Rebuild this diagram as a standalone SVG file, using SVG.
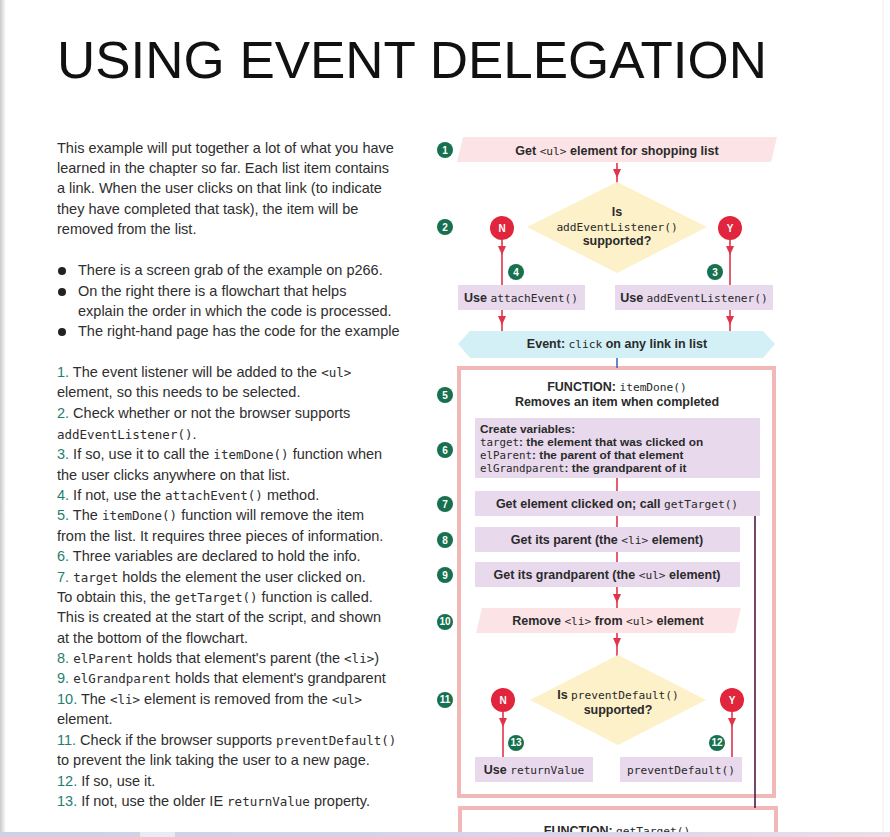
<svg xmlns="http://www.w3.org/2000/svg" width="890" height="837" viewBox="0 0 890 837">
<defs>
<style>
.t{font-family:"Liberation Sans",Arial,sans-serif;font-size:14.5px;fill:#2e2e2e}
.m{font-family:"DejaVu Sans Mono","Liberation Mono",monospace;font-size:12.5px}
.n{fill:#1f8070}
.fb{font-family:"Liberation Sans",Arial,sans-serif;font-weight:bold;font-size:12.5px;fill:#2a2a2a}
.fm{font-family:"DejaVu Sans Mono","Liberation Mono",monospace;font-weight:normal;font-size:11.2px}
.v{font-size:11.8px}
.v .fm{font-size:10.8px}
.mid{text-anchor:middle}
.badge circle{fill:#17704e}
.badge text{font-family:"Liberation Sans",Arial,sans-serif;font-weight:bold;font-size:10px;fill:#fff;text-anchor:middle}
.yn circle{fill:#e0253c}
.yn text{font-family:"Liberation Sans",Arial,sans-serif;font-weight:bold;font-size:10px;fill:#fff;text-anchor:middle}
.pink{fill:#fbe3e6}
.lav{fill:#e8d9ed}
.yel{fill:#fdf1c9}
.cyan{fill:#d3f0f7}
.frame{fill:#fff;stroke:#f2b7b7;stroke-width:4}
.red{stroke:#e0344a;stroke-width:1.6;fill:none}
.arr{marker-mid:url(#ah)}
</style>
<marker id="ah" markerWidth="9" markerHeight="8" refX="5" refY="4" orient="auto" markerUnits="userSpaceOnUse">
<path d="M0,0 L9,4 L0,8 Z" fill="#e0344a"/>
</marker>
<linearGradient id="ledge" x1="0" x2="1" y1="0" y2="0">
<stop offset="0" stop-color="#c8c8c8"/>
<stop offset="1" stop-color="#ffffff"/>
</linearGradient>
<linearGradient id="bstrip" x1="0" x2="1" y1="0" y2="0">
<stop offset="0" stop-color="#cdd1e6"/>
<stop offset="0.6" stop-color="#d9d4ea"/>
<stop offset="1" stop-color="#eadde8"/>
</linearGradient>
</defs>

<rect x="0" y="0" width="890" height="837" fill="#fff"/>
<rect x="0" y="0" width="6" height="837" fill="url(#ledge)"/>
<line x1="883" y1="0" x2="883" y2="832" stroke="#eeeeee" stroke-width="1"/>

<g id="title">
<text x="57" y="78" font-family="'Liberation Sans',Arial,sans-serif" font-size="51" fill="#111" textLength="710" lengthAdjust="spacingAndGlyphs">USING EVENT DELEGATION</text>
</g>

<g id="intro" class="t">
<text x="57" y="153">This example will put together a lot of what you have</text>
<text x="57" y="173">learned in the chapter so far. Each list item contains</text>
<text x="57" y="193">a link. When the user clicks on that link (to indicate</text>
<text x="57" y="214">they have completed that task), the item will be</text>
<text x="57" y="234">removed from the list.</text>
<circle cx="62" cy="271" r="4" fill="#222"/>
<circle cx="62" cy="292" r="4" fill="#222"/>
<circle cx="62" cy="332" r="4" fill="#222"/>
<text x="78" y="275">There is a screen grab of the example on p266.</text>
<text x="78" y="296">On the right there is a flowchart that helps</text>
<text x="78" y="316">explain the order in which the code is processed.</text>
<text x="78" y="336">The right-hand page has the code for the example</text>
</g>

<g id="steps" class="t">
<text x="57" y="377"><tspan class="n">1.</tspan> The event listener will be added to the <tspan class="m">&lt;ul&gt;</tspan></text>
<text x="57" y="397">element, so this needs to be selected.</text>
<text x="57" y="418"><tspan class="n">2.</tspan> Check whether or not the browser supports</text>
<text x="57" y="439"><tspan class="m">addEventListener()</tspan>.</text>
<text x="57" y="459"><tspan class="n">3.</tspan> If so, use it to call the <tspan class="m">itemDone()</tspan> function when</text>
<text x="57" y="480">the user clicks anywhere on that list.</text>
<text x="57" y="500"><tspan class="n">4.</tspan> If not, use the <tspan class="m">attachEvent()</tspan> method.</text>
<text x="57" y="520"><tspan class="n">5.</tspan> The <tspan class="m">itemDone()</tspan> function will remove the item</text>
<text x="57" y="541">from the list. It requires three pieces of information.</text>
<text x="57" y="561"><tspan class="n">6.</tspan> Three variables are declared to hold the info.</text>
<text x="57" y="582"><tspan class="n">7.</tspan> <tspan class="m">target</tspan> holds the element the user clicked on.</text>
<text x="57" y="602">To obtain this, the <tspan class="m">getTarget()</tspan> function is called.</text>
<text x="57" y="622">This is created at the start of the script, and shown</text>
<text x="57" y="643">at the bottom of the flowchart.</text>
<text x="57" y="663"><tspan class="n">8.</tspan> <tspan class="m">elParent</tspan> holds that element's parent (the <tspan class="m">&lt;li&gt;</tspan>)</text>
<text x="57" y="683"><tspan class="n">9.</tspan> <tspan class="m">elGrandparent</tspan> holds that element's grandparent</text>
<text x="57" y="704"><tspan class="n">10.</tspan> The <tspan class="m">&lt;li&gt;</tspan> element is removed from the <tspan class="m">&lt;ul&gt;</tspan></text>
<text x="57" y="724">element.</text>
<text x="57" y="745"><tspan class="n">11.</tspan> Check if the browser supports <tspan class="m">preventDefault()</tspan></text>
<text x="57" y="765">to prevent the link taking the user to a new page.</text>
<text x="57" y="786"><tspan class="n">12.</tspan> If so, use it.</text>
<text x="57" y="806"><tspan class="n">13.</tspan> If not, use the older IE <tspan class="m">returnValue</tspan> property.</text>
</g>

<g id="frame-itemDone"><rect class="frame" x="459" y="368" width="315" height="428"/></g>
<g id="frame-getTarget">
<rect class="frame" x="460" y="808" width="316" height="60"/>
<text class="fb mid" x="617" y="835">FUNCTION: <tspan class="fm">getTarget()</tspan></text>
</g>

<g id="connectors">
<path class="red arr" d="M617,163 L617,174 L617,183"/>
<path class="red arr" d="M502,240 L502,251 L502,285"/>
<path class="red arr" d="M730,240 L730,251 L730,285"/>
<path class="red arr" d="M502,310 L502,321 L502,331"/>
<path class="red arr" d="M730,310 L730,321 L730,331"/>
<line x1="617" y1="358" x2="617" y2="368" stroke="#3b6db3" stroke-width="1.6"/>
<line class="red" x1="617" y1="478" x2="617" y2="491"/>
<line class="red" x1="617" y1="516" x2="617" y2="527"/>
<line class="red" x1="617" y1="552" x2="617" y2="562"/>
<path class="red arr" d="M617,587 L617,599 L617,608"/>
<path class="red arr" d="M617,633 L617,643 L617,656"/>
<path class="red arr" d="M503,712 L503,723 L503,757"/>
<path class="red arr" d="M732,712 L732,723 L732,757"/>
<line x1="755" y1="516" x2="755" y2="808" stroke="#4e1a45" stroke-width="1.6"/>
</g>

<g id="n1">
<polygon class="pink" points="463,137 777,137 771,162 457,162"/>
<text class="fb mid" x="617" y="155">Get <tspan class="fm">&lt;ul&gt;</tspan> element for shopping list</text>
</g>
<g id="d1">
<polygon class="yel" points="617,182 707,227 617,273 527,227"/>
<text class="fb mid" x="617" y="216">Is</text>
<text class="fb mid" x="617" y="231"><tspan class="fm">addEventListener()</tspan></text>
<text class="fb mid" x="617" y="245">supported?</text>
</g>
<g id="n1no" class="yn"><circle cx="502" cy="228" r="12"/><text x="502" y="232">N</text></g>
<g id="n1yes" class="yn"><circle cx="730" cy="228" r="12"/><text x="730" y="232">Y</text></g>
<g id="n4">
<rect class="lav" x="458" y="285" width="127" height="25"/>
<text class="fb mid" x="521" y="302">Use <tspan class="fm">attachEvent()</tspan></text>
</g>
<g id="n3">
<rect class="lav" x="615" y="285" width="158" height="25"/>
<text class="fb mid" x="694" y="302">Use <tspan class="fm">addEventListener()</tspan></text>
</g>
<g id="event">
<polygon class="cyan" points="458,344 470,331 763,331 775,344 763,358 470,358"/>
<text class="fb mid" x="617" y="348">Event: <tspan class="fm">click</tspan> on any link in list</text>
</g>
<g id="n5">
<text class="fb mid" x="617" y="391">FUNCTION: <tspan class="fm">itemDone()</tspan></text>
<text class="fb mid" x="617" y="406">Removes an item when completed</text>
</g>
<g id="n6">
<rect class="lav" x="475" y="418" width="285" height="60"/>
<text class="fb v" x="480" y="433">Create variables:</text>
<text class="fb v" x="480" y="446"><tspan class="fm">target</tspan>: the element that was clicked on</text>
<text class="fb v" x="480" y="459"><tspan class="fm">elParent</tspan>: the parent of that element</text>
<text class="fb v" x="480" y="472"><tspan class="fm">elGrandparent</tspan>: the grandparent of it</text>
</g>
<g id="n7">
<rect class="lav" x="475" y="491" width="285" height="25"/>
<text class="fb mid" x="617" y="508">Get element clicked on; call <tspan class="fm">getTarget()</tspan></text>
</g>
<g id="n8">
<rect class="lav" x="475" y="527" width="265" height="25"/>
<text class="fb mid" x="607" y="544">Get its parent (the <tspan class="fm">&lt;li&gt;</tspan> element)</text>
</g>
<g id="n9">
<rect class="lav" x="475" y="562" width="265" height="25"/>
<text class="fb mid" x="607" y="579">Get its grandparent (the <tspan class="fm">&lt;ul&gt;</tspan> element)</text>
</g>
<g id="n10">
<polygon class="pink" points="482,608 741,608 735,633 476,633"/>
<text class="fb mid" x="608" y="625">Remove <tspan class="fm">&lt;li&gt;</tspan> from <tspan class="fm">&lt;ul&gt;</tspan> element</text>
</g>
<g id="d2">
<polygon class="yel" points="618,655 706,700 618,745 530,700"/>
<text class="fb mid" x="618" y="699">Is <tspan class="fm">preventDefault()</tspan></text>
<text class="fb mid" x="618" y="714">supported?</text>
</g>
<g id="n2no" class="yn"><circle cx="503" cy="700" r="12"/><text x="503" y="704">N</text></g>
<g id="n2yes" class="yn"><circle cx="732" cy="700" r="12"/><text x="732" y="704">Y</text></g>
<g id="n13">
<rect class="lav" x="475" y="757" width="118" height="25"/>
<text class="fb mid" x="534" y="774">Use <tspan class="fm">returnValue</tspan></text>
</g>
<g id="n12">
<rect class="lav" x="620" y="757" width="122" height="25"/>
<text class="fb mid" x="681" y="774"><tspan class="fm">preventDefault()</tspan></text>
</g>

<g id="badges" class="badge">
<g id="b1"><circle cx="445" cy="150" r="8"/><text x="445" y="153.5">1</text></g>
<g id="b2"><circle cx="445" cy="227" r="8"/><text x="445" y="230.5">2</text></g>
<g id="b3"><circle cx="715" cy="272" r="8"/><text x="715" y="275.5">3</text></g>
<g id="b4"><circle cx="516" cy="272" r="8"/><text x="516" y="275.5">4</text></g>
<g id="b5"><circle cx="445" cy="395" r="8"/><text x="445" y="398.5">5</text></g>
<g id="b6"><circle cx="445" cy="450" r="8"/><text x="445" y="453.5">6</text></g>
<g id="b7"><circle cx="445" cy="504" r="8"/><text x="445" y="507.5">7</text></g>
<g id="b8"><circle cx="445" cy="540" r="8"/><text x="445" y="543.5">8</text></g>
<g id="b9"><circle cx="445" cy="575" r="8"/><text x="445" y="578.5">9</text></g>
<g id="b10"><circle cx="445" cy="622" r="8"/><text x="445" y="625" font-size="8.5">10</text></g>
<g id="b11"><circle cx="445" cy="700" r="8"/><text x="445" y="703" font-size="8.5">11</text></g>
<g id="b12"><circle cx="717" cy="743" r="8"/><text x="717" y="746" font-size="8.5">12</text></g>
<g id="b13"><circle cx="516" cy="743" r="8"/><text x="516" y="746" font-size="8.5">13</text></g>
</g>

<rect x="0" y="832" width="890" height="5" fill="url(#bstrip)"/>
<rect x="140" y="832" width="35" height="5" fill="#e8eaf3"/>
</svg>
